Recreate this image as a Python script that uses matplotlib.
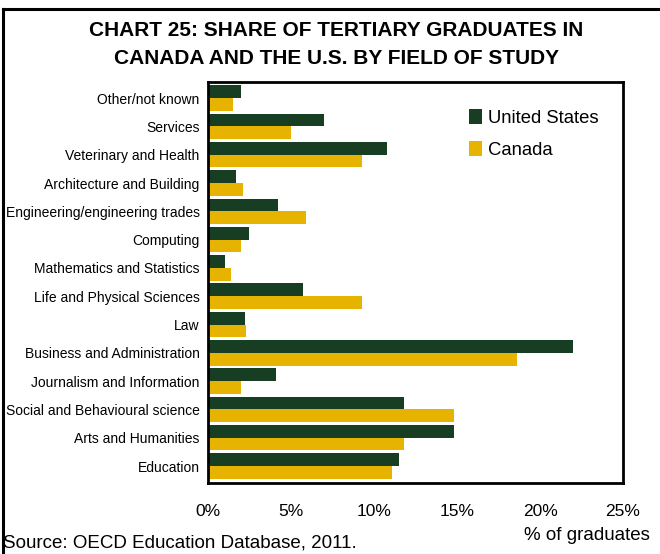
import matplotlib.pyplot as plt
import numpy as np

plt.rcParams['font.family'] = ['Liberation Sans', 'DejaVu Sans']

# Data, bottom to top
fields = ['Education', 'Arts and Humanities', 'Social and Behavioural science',
          'Journalism and Information', 'Business and Administration', 'Law',
          'Life and Physical Sciences', 'Mathematics and Statistics', 'Computing',
          'Engineering/engineering trades', 'Architecture and Building',
          'Veterinary and Health', 'Services', 'Other/not known']
us_share = [11.5, 14.8, 11.8, 4.1, 22.0, 2.2, 5.7, 1.0, 2.5, 4.2, 1.7, 10.8, 7.0, 2.0]
canada_share = [11.1, 11.8, 14.8, 2.0, 18.6, 2.3, 9.3, 1.4, 2.0, 5.9, 2.1, 9.3, 5.0, 1.5]
xticks = [0, 5, 10, 15, 20, 25]

us_color = '#173D23'
ca_color = '#E6B400'

fig = plt.figure(figsize=(6.6, 5.54), dpi=100)
ax = fig.add_axes([208/660, 1 - 483/554, (623 - 208)/660, (483 - 82)/554])

y = np.arange(len(fields))
h = 0.45
ax.barh(y + h/2, us_share, height=h, color=us_color, label='United States')
ax.barh(y - h/2, canada_share, height=h, color=ca_color, label='Canada')

ax.set_ylim(-0.6, len(fields) - 1 + 0.57)
ax.set_xlim(0, 25)
ax.set_yticks(y)
ax.set_yticklabels(fields, fontsize=10)
ax.set_xticks(xticks)
ax.set_xticklabels([f'{t}%' for t in xticks], fontsize=12.5)
ax.tick_params(axis='both', length=0)
ax.tick_params(axis='x', pad=15)
ax.tick_params(axis='y', pad=6)
for s in ax.spines.values():
    s.set_linewidth(2)
    s.set_color('black')

# legend
ax.legend(loc='upper left', bbox_to_anchor=(0.59, 0.975), frameon=False,
          fontsize=13.3, handlelength=0.7, handleheight=0.9,
          handletextpad=0.3, labelspacing=0.75)

# title, axis label, source
fig.text(0.51, 1 - 31/554, 'CHART 25: SHARE OF TERTIARY GRADUATES IN',
         ha='center', va='center', fontsize=15, fontweight='bold')
fig.text(0.51, 1 - 59/554, 'CANADA AND THE U.S. BY FIELD OF STUDY',
         ha='center', va='center', fontsize=15, fontweight='bold')
fig.text(650/660, 1 - 535/554, '% of graduates', ha='right', va='center', fontsize=13.5)
fig.text(3/660, 1 - 543/554, 'Source: OECD Education Database, 2011.',
         ha='left', va='center', fontsize=13.5)

# outer frame (top and left edges visible)
fig.add_artist(plt.Line2D([3/660, 3/660], [0, 1 - 9/554], color='black', lw=2.2,
                          transform=fig.transFigure))
fig.add_artist(plt.Line2D([3/660, 1], [1 - 9/554, 1 - 9/554], color='black', lw=2.2,
                          transform=fig.transFigure))

fig.savefig('out.png', dpi=100, facecolor='white')
